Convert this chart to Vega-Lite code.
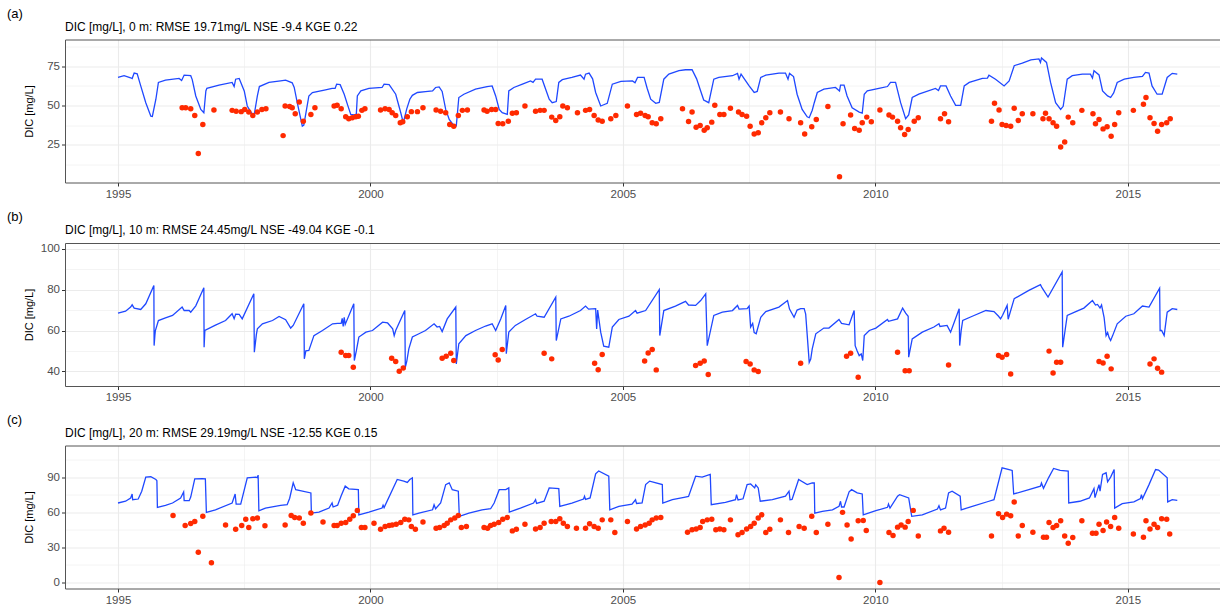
{
  "$schema": "https://vega.github.io/schema/vega-lite/v6.json",
  "background": "white",
  "padding": {"left": 7, "top": 7.5, "right": 0, "bottom": 0},
  "spacing": 10.5,
  "datasets": {
    "simA": [
      {"year":1995.0,"dic":67.9},{"year":1995.12,"dic":69},{"year":1995.25,"dic":67.7},{"year":1995.28,"dic":67.2},{"year":1995.32,"dic":70.7},{"year":1995.38,"dic":70.2},{"year":1995.45,"dic":62.5},{"year":1995.55,"dic":51.8},{"year":1995.65,"dic":43.2},{"year":1995.68,"dic":43.0},{"year":1995.75,"dic":54},{"year":1995.8,"dic":64.7},{"year":1995.94,"dic":66.2},
      {"year":1996.21,"dic":67.3},{"year":1996.26,"dic":66.0},{"year":1996.31,"dic":69.4},{"year":1996.44,"dic":69},{"year":1996.47,"dic":66.5},{"year":1996.54,"dic":56.1},{"year":1996.64,"dic":47.5},{"year":1996.7,"dic":45.4},{"year":1996.74,"dic":59.3},{"year":1996.76,"dic":61},
      {"year":1997.0,"dic":63},{"year":1997.26,"dic":64.7},{"year":1997.3,"dic":62.1},{"year":1997.33,"dic":66.8},{"year":1997.4,"dic":67.3},{"year":1997.5,"dic":59.3},{"year":1997.56,"dic":49.7},{"year":1997.66,"dic":44.3},{"year":1997.7,"dic":44.6},{"year":1997.76,"dic":56.1},{"year":1997.8,"dic":62.1},{"year":1997.99,"dic":64.7},
      {"year":1998.22,"dic":65.7},{"year":1998.32,"dic":66.2},{"year":1998.45,"dic":64.5},{"year":1998.49,"dic":61.5},{"year":1998.55,"dic":51.8},{"year":1998.65,"dic":36.8},{"year":1998.68,"dic":37.5},{"year":1998.78,"dic":56.1},{"year":1998.85,"dic":58.3},
      {"year":1999.11,"dic":60},{"year":1999.24,"dic":60.9},{"year":1999.3,"dic":60.9},{"year":1999.33,"dic":63.6},{"year":1999.4,"dic":63.3},{"year":1999.48,"dic":57.2},{"year":1999.55,"dic":50.1},{"year":1999.61,"dic":44.3},{"year":1999.68,"dic":44.0},{"year":1999.72,"dic":44.5},{"year":1999.74,"dic":56.1},{"year":1999.81,"dic":59.3},{"year":1999.97,"dic":60.9},
      {"year":2000.23,"dic":61.5},{"year":2000.27,"dic":63.6},{"year":2000.37,"dic":63.3},{"year":2000.5,"dic":57.2},{"year":2000.6,"dic":45.4},{"year":2000.65,"dic":39},{"year":2000.72,"dic":48},{"year":2000.78,"dic":54},{"year":2000.83,"dic":56.5},{"year":2000.93,"dic":58.3},
      {"year":2001.09,"dic":58.9},{"year":2001.23,"dic":59.3},{"year":2001.29,"dic":61.5},{"year":2001.36,"dic":61.9},{"year":2001.42,"dic":59},{"year":2001.49,"dic":47.5},{"year":2001.56,"dic":41.1},{"year":2001.66,"dic":36.8},{"year":2001.7,"dic":37},{"year":2001.75,"dic":55.1},{"year":2001.85,"dic":57.2},
      {"year":2002.08,"dic":60.4},{"year":2002.31,"dic":62.1},{"year":2002.41,"dic":62.5},{"year":2002.48,"dic":56.1},{"year":2002.55,"dic":47.5},{"year":2002.61,"dic":45.4},{"year":2002.71,"dic":44.3},{"year":2002.74,"dic":59.3},{"year":2002.84,"dic":61.5},
      {"year":2003.01,"dic":63.6},{"year":2003.17,"dic":65.7},{"year":2003.22,"dic":64.8},{"year":2003.27,"dic":66.8},{"year":2003.4,"dic":66.8},{"year":2003.47,"dic":60.4},{"year":2003.54,"dic":54},{"year":2003.6,"dic":51.8},{"year":2003.68,"dic":52.5},{"year":2003.73,"dic":64.7},{"year":2003.8,"dic":66.5},{"year":2003.99,"dic":67.9},
      {"year":2004.16,"dic":69.4},{"year":2004.23,"dic":66.8},{"year":2004.26,"dic":70},{"year":2004.33,"dic":70.7},{"year":2004.4,"dic":67},{"year":2004.46,"dic":58.3},{"year":2004.56,"dic":49.7},{"year":2004.62,"dic":50.5},{"year":2004.69,"dic":51.4},{"year":2004.79,"dic":63.6},{"year":2004.96,"dic":65.4},
      {"year":2005.19,"dic":65.7},{"year":2005.24,"dic":64.5},{"year":2005.29,"dic":67.9},{"year":2005.42,"dic":67.9},{"year":2005.48,"dic":61},{"year":2005.55,"dic":54},{"year":2005.65,"dic":51.4},{"year":2005.72,"dic":52},{"year":2005.81,"dic":66.8},{"year":2005.91,"dic":70},
      {"year":2006.11,"dic":72.2},{"year":2006.24,"dic":72.8},{"year":2006.37,"dic":72.8},{"year":2006.46,"dic":67},{"year":2006.54,"dic":59.3},{"year":2006.6,"dic":53.5},{"year":2006.7,"dic":51.8},{"year":2006.8,"dic":66.8},{"year":2006.9,"dic":67.9},
      {"year":2007.17,"dic":69},{"year":2007.27,"dic":70.5},{"year":2007.3,"dic":66.8},{"year":2007.34,"dic":70},{"year":2007.5,"dic":62.5},{"year":2007.6,"dic":58.3},{"year":2007.66,"dic":59},{"year":2007.73,"dic":67.9},{"year":2007.83,"dic":69.4},
      {"year":2008.09,"dic":70.7},{"year":2008.22,"dic":70.7},{"year":2008.27,"dic":66.8},{"year":2008.3,"dic":70.5},{"year":2008.38,"dic":68.5},{"year":2008.45,"dic":57.2},{"year":2008.55,"dic":47.5},{"year":2008.65,"dic":42.8},{"year":2008.69,"dic":42.2},{"year":2008.75,"dic":47},{"year":2008.79,"dic":51.8},{"year":2008.85,"dic":58.3},{"year":2008.98,"dic":60.4},
      {"year":2009.21,"dic":61.5},{"year":2009.29,"dic":59.3},{"year":2009.31,"dic":63},{"year":2009.38,"dic":63},{"year":2009.44,"dic":56.1},{"year":2009.54,"dic":48.6},{"year":2009.68,"dic":45.8},{"year":2009.74,"dic":45.2},{"year":2009.78,"dic":57.2},{"year":2009.84,"dic":59.3},
      {"year":2010.07,"dic":60.9},{"year":2010.24,"dic":62.1},{"year":2010.3,"dic":64.7},{"year":2010.4,"dic":64.7},{"year":2010.5,"dic":51.8},{"year":2010.6,"dic":41.6},{"year":2010.66,"dic":44},{"year":2010.73,"dic":55.1},{"year":2010.86,"dic":57.2},
      {"year":2011.19,"dic":60.9},{"year":2011.25,"dic":59.5},{"year":2011.29,"dic":62.5},{"year":2011.4,"dic":62.5},{"year":2011.49,"dic":56.1},{"year":2011.59,"dic":50.1},{"year":2011.69,"dic":50.1},{"year":2011.76,"dic":62.5},{"year":2011.86,"dic":64.7},
      {"year":2012.12,"dic":67.3},{"year":2012.22,"dic":67.5},{"year":2012.25,"dic":69.4},{"year":2012.38,"dic":66.8},{"year":2012.55,"dic":62.5},{"year":2012.65,"dic":65.7},{"year":2012.75,"dic":75.4},{"year":2012.91,"dic":77.1},
      {"year":2013.08,"dic":79.1},{"year":2013.24,"dic":79.7},{"year":2013.27,"dic":77.5},{"year":2013.29,"dic":80.3},{"year":2013.39,"dic":77.5},{"year":2013.47,"dic":64.7},{"year":2013.57,"dic":51.8},{"year":2013.67,"dic":47.5},{"year":2013.72,"dic":49.5},{"year":2013.8,"dic":66.8},{"year":2013.9,"dic":69},
      {"year":2014.1,"dic":70},{"year":2014.26,"dic":70},{"year":2014.3,"dic":67.5},{"year":2014.33,"dic":72.2},{"year":2014.43,"dic":69.5},{"year":2014.5,"dic":59.3},{"year":2014.6,"dic":56.1},{"year":2014.66,"dic":55.1},{"year":2014.72,"dic":58},{"year":2014.79,"dic":64.7},{"year":2014.93,"dic":66.8},
      {"year":2015.12,"dic":67.9},{"year":2015.29,"dic":68.5},{"year":2015.35,"dic":71.1},{"year":2015.42,"dic":70.7},{"year":2015.48,"dic":62.5},{"year":2015.58,"dic":57.2},{"year":2015.68,"dic":57.2},{"year":2015.78,"dic":67.9},{"year":2015.88,"dic":70.5},{"year":2015.98,"dic":70.0}
    ],
    "obsA": [
      {"year":1996.27,"dic":48.6},{"year":1996.34,"dic":48.6},{"year":1996.44,"dic":48},{"year":1996.52,"dic":43.7},{"year":1996.59,"dic":19.4},{"year":1996.68,"dic":37.9},{"year":1996.9,"dic":47.1},
      {"year":1997.26,"dic":46.9},{"year":1997.34,"dic":46.4},{"year":1997.44,"dic":46.1},{"year":1997.51,"dic":47.5},{"year":1997.59,"dic":45.8},{"year":1997.67,"dic":43.7},{"year":1997.76,"dic":45.8},{"year":1997.85,"dic":47.5},{"year":1997.93,"dic":48},
      {"year":1998.27,"dic":30.8},{"year":1998.31,"dic":49.7},{"year":1998.4,"dic":49.3},{"year":1998.45,"dic":48.6},{"year":1998.51,"dic":44.8},{"year":1998.59,"dic":52.2},{"year":1998.67,"dic":40},{"year":1998.82,"dic":44.3},{"year":1998.9,"dic":48.6},
      {"year":1999.28,"dic":49.7},{"year":1999.34,"dic":50.1},{"year":1999.42,"dic":48},{"year":1999.51,"dic":42.8},{"year":1999.57,"dic":41.6},{"year":1999.64,"dic":42.2},{"year":1999.71,"dic":42.8},{"year":1999.76,"dic":43.2},{"year":1999.83,"dic":46.9},{"year":1999.89,"dic":48},
      {"year":2000.2,"dic":47.1},{"year":2000.29,"dic":48},{"year":2000.37,"dic":47.5},{"year":2000.43,"dic":45.4},{"year":2000.5,"dic":43.7},{"year":2000.59,"dic":39},{"year":2000.64,"dic":39.6},{"year":2000.73,"dic":42.8},{"year":2000.81,"dic":46.1},{"year":2000.93,"dic":46.1},
      {"year":2001.04,"dic":48.6},{"year":2001.3,"dic":47.1},{"year":2001.39,"dic":46.4},{"year":2001.49,"dic":45.4},{"year":2001.57,"dic":37.9},{"year":2001.65,"dic":36.8},{"year":2001.74,"dic":43.7},{"year":2001.82,"dic":46.9},{"year":2001.92,"dic":47.1},
      {"year":2002.25,"dic":47.1},{"year":2002.31,"dic":46.4},{"year":2002.4,"dic":47.5},{"year":2002.48,"dic":47.5},{"year":2002.53,"dic":38.5},{"year":2002.62,"dic":38.3},{"year":2002.73,"dic":40},{"year":2002.81,"dic":45},{"year":2002.89,"dic":45.4},
      {"year":2003.06,"dic":49.7},{"year":2003.27,"dic":46.4},{"year":2003.36,"dic":46.9},{"year":2003.44,"dic":46.9},{"year":2003.59,"dic":42.6},{"year":2003.67,"dic":40.5},{"year":2003.75,"dic":42.8},{"year":2003.81,"dic":49.7},{"year":2003.9,"dic":48.6},
      {"year":2004.1,"dic":45.4},{"year":2004.26,"dic":46.9},{"year":2004.34,"dic":47.5},{"year":2004.43,"dic":43.7},{"year":2004.51,"dic":40.7},{"year":2004.59,"dic":40},{"year":2004.76,"dic":41.6},{"year":2004.86,"dic":43.7},
      {"year":2005.09,"dic":49.7},{"year":2005.27,"dic":44.3},{"year":2005.35,"dic":45},{"year":2005.44,"dic":43.7},{"year":2005.5,"dic":42.8},{"year":2005.58,"dic":39},{"year":2005.66,"dic":38.3},{"year":2005.75,"dic":41.6},
      {"year":2006.18,"dic":48},{"year":2006.3,"dic":39.8},{"year":2006.37,"dic":45.8},{"year":2006.45,"dic":36.2},{"year":2006.53,"dic":37.3},{"year":2006.61,"dic":34.2},{"year":2006.67,"dic":35.8},{"year":2006.76,"dic":39.4},{"year":2006.82,"dic":50.1},{"year":2006.92,"dic":44.3},
      {"year":2007.0,"dic":44.3},{"year":2007.13,"dic":48.2},{"year":2007.29,"dic":45.8},{"year":2007.36,"dic":44.3},{"year":2007.45,"dic":43.2},{"year":2007.52,"dic":36.8},{"year":2007.6,"dic":31.9},{"year":2007.68,"dic":32.6},{"year":2007.75,"dic":39},{"year":2007.83,"dic":42.2},{"year":2007.91,"dic":45.4},
      {"year":2008.12,"dic":45.8},{"year":2008.29,"dic":41.6},{"year":2008.52,"dic":39},{"year":2008.6,"dic":31.9},{"year":2008.74,"dic":36.4},{"year":2008.83,"dic":41.1},
      {"year":2009.06,"dic":49.3},{"year":2009.29,"dic":4.6},{"year":2009.36,"dic":38.3},{"year":2009.51,"dic":43.9},{"year":2009.59,"dic":35.3},{"year":2009.68,"dic":34.2},{"year":2009.74,"dic":39},{"year":2009.83,"dic":42.6},{"year":2009.92,"dic":39.6},
      {"year":2010.09,"dic":47.1},{"year":2010.27,"dic":43.9},{"year":2010.34,"dic":42.6},{"year":2010.44,"dic":40},{"year":2010.5,"dic":35.8},{"year":2010.58,"dic":31.5},{"year":2010.65,"dic":34.7},{"year":2010.77,"dic":40},{"year":2010.85,"dic":42.2},
      {"year":2011.29,"dic":41.6},{"year":2011.37,"dic":44.8},{"year":2011.45,"dic":39.6},
      {"year":2012.3,"dic":40},{"year":2012.36,"dic":51.4},{"year":2012.45,"dic":47.1},{"year":2012.51,"dic":37.9},{"year":2012.59,"dic":37.3},{"year":2012.68,"dic":36.8},{"year":2012.75,"dic":48.2},{"year":2012.83,"dic":40.5},{"year":2012.91,"dic":44.8},
      {"year":2013.12,"dic":44.8},{"year":2013.32,"dic":41.6},{"year":2013.37,"dic":45},{"year":2013.44,"dic":41.6},{"year":2013.52,"dic":39},{"year":2013.59,"dic":36.8},{"year":2013.67,"dic":23.6},{"year":2013.75,"dic":26.8},{"year":2013.82,"dic":42.6},{"year":2013.91,"dic":39},
      {"year":2014.09,"dic":46.9},{"year":2014.31,"dic":44.8},{"year":2014.36,"dic":38.3},{"year":2014.43,"dic":41.1},{"year":2014.51,"dic":35.1},{"year":2014.59,"dic":36.4},{"year":2014.67,"dic":30.4},{"year":2014.74,"dic":37.9},{"year":2014.82,"dic":45.4},
      {"year":2015.11,"dic":46.9},{"year":2015.31,"dic":50.8},{"year":2015.36,"dic":55.1},{"year":2015.44,"dic":42.2},{"year":2015.52,"dic":38.5},{"year":2015.59,"dic":33.6},{"year":2015.67,"dic":37.9},{"year":2015.77,"dic":39},{"year":2015.84,"dic":41.6}
    ],
    "simB": [
      {"year":1995.0,"dic":68.5},{"year":1995.15,"dic":69.5},{"year":1995.25,"dic":71.5},{"year":1995.28,"dic":72.6},{"year":1995.32,"dic":71},{"year":1995.45,"dic":70.3},{"year":1995.55,"dic":73.1},{"year":1995.71,"dic":82.1},{"year":1995.715,"dic":52.6},{"year":1995.73,"dic":57.5},{"year":1995.74,"dic":60},{"year":1995.8,"dic":64.9},{"year":1995.94,"dic":66.2},
      {"year":1996.08,"dic":67.4},{"year":1996.27,"dic":71.5},{"year":1996.31,"dic":69.8},{"year":1996.41,"dic":69.8},{"year":1996.44,"dic":69},{"year":1996.54,"dic":72.1},{"year":1996.7,"dic":81},{"year":1996.705,"dic":51.8},{"year":1996.72,"dic":60},{"year":1996.92,"dic":62.5},
      {"year":1997.13,"dic":64.9},{"year":1997.26,"dic":68.2},{"year":1997.3,"dic":65.8},{"year":1997.33,"dic":68},{"year":1997.4,"dic":67.9},{"year":1997.46,"dic":65.7},{"year":1997.69,"dic":78},{"year":1997.7,"dic":49.4},{"year":1997.74,"dic":58},{"year":1997.76,"dic":60.8},{"year":1997.86,"dic":63.3},
      {"year":1998.06,"dic":64.9},{"year":1998.19,"dic":66.9},{"year":1998.32,"dic":65.3},{"year":1998.42,"dic":61.2},{"year":1998.47,"dic":62.5},{"year":1998.68,"dic":73.1},{"year":1998.69,"dic":46.1},{"year":1998.72,"dic":50},{"year":1998.78,"dic":50.2},{"year":1998.88,"dic":57.5},
      {"year":1999.05,"dic":60},{"year":1999.25,"dic":63.3},{"year":1999.35,"dic":63.5},{"year":1999.42,"dic":63.5},{"year":1999.44,"dic":66},{"year":1999.46,"dic":62},{"year":1999.48,"dic":66.5},{"year":1999.5,"dic":63},{"year":1999.67,"dic":73.1},{"year":1999.68,"dic":45.3},{"year":1999.72,"dic":50},{"year":1999.77,"dic":56.8},{"year":1999.91,"dic":59.2},
      {"year":2000.04,"dic":60},{"year":2000.24,"dic":64.1},{"year":2000.34,"dic":63.7},{"year":2000.44,"dic":60.8},{"year":2000.47,"dic":57.5},{"year":2000.5,"dic":60},{"year":2000.68,"dic":69.8},{"year":2000.69,"dic":42},{"year":2000.72,"dic":45},{"year":2000.76,"dic":51},{"year":2000.83,"dic":56.8},{"year":2000.96,"dic":58.4},
      {"year":2001.09,"dic":60},{"year":2001.26,"dic":63.3},{"year":2001.32,"dic":61.7},{"year":2001.37,"dic":62},{"year":2001.42,"dic":59.5},{"year":2001.52,"dic":65.7},{"year":2001.69,"dic":71.5},{"year":2001.7,"dic":43.6},{"year":2001.75,"dic":53.5},{"year":2001.89,"dic":57.5},
      {"year":2002.08,"dic":60},{"year":2002.28,"dic":62.2},{"year":2002.41,"dic":63.3},{"year":2002.48,"dic":60},{"year":2002.58,"dic":65.7},{"year":2002.68,"dic":72.3},{"year":2002.69,"dic":48.6},{"year":2002.74,"dic":59.2},{"year":2002.87,"dic":62.5},
      {"year":2003.07,"dic":65.4},{"year":2003.27,"dic":68.2},{"year":2003.3,"dic":67},{"year":2003.44,"dic":66.5},{"year":2003.67,"dic":76.4},{"year":2003.68,"dic":55.1},{"year":2003.77,"dic":65.7},{"year":2003.93,"dic":67},
      {"year":2004.16,"dic":69.8},{"year":2004.26,"dic":72},{"year":2004.32,"dic":70.5},{"year":2004.46,"dic":70.7},{"year":2004.48,"dic":60.8},{"year":2004.5,"dic":70},{"year":2004.56,"dic":59.2},{"year":2004.62,"dic":52.3},{"year":2004.72,"dic":51.8},{"year":2004.79,"dic":61.7},{"year":2004.92,"dic":65.4},
      {"year":2005.12,"dic":67},{"year":2005.25,"dic":69.8},{"year":2005.28,"dic":68.5},{"year":2005.45,"dic":69.8},{"year":2005.72,"dic":80},{"year":2005.73,"dic":57.5},{"year":2005.81,"dic":69.8},
      {"year":2006.04,"dic":72},{"year":2006.24,"dic":74.3},{"year":2006.3,"dic":72.5},{"year":2006.44,"dic":72.3},{"year":2006.54,"dic":74.7},{"year":2006.64,"dic":78},{"year":2006.67,"dic":52.6},{"year":2006.8,"dic":67.4},{"year":2006.97,"dic":69},
      {"year":2007.17,"dic":69.8},{"year":2007.27,"dic":72.3},{"year":2007.3,"dic":70.5},{"year":2007.46,"dic":70.7},{"year":2007.5,"dic":72},{"year":2007.53,"dic":61.7},{"year":2007.57,"dic":63.5},{"year":2007.6,"dic":59},{"year":2007.64,"dic":58.4},{"year":2007.73,"dic":66.5},{"year":2007.83,"dic":69.3},
      {"year":2008.09,"dic":71.5},{"year":2008.26,"dic":74.7},{"year":2008.3,"dic":70.5},{"year":2008.39,"dic":66.5},{"year":2008.45,"dic":70},{"year":2008.52,"dic":70.7},{"year":2008.59,"dic":70.7},{"year":2008.62,"dic":68},{"year":2008.69,"dic":44.4},{"year":2008.72,"dic":46},{"year":2008.75,"dic":51},{"year":2008.82,"dic":58.4},{"year":2008.98,"dic":61.2},
      {"year":2009.08,"dic":61.2},{"year":2009.28,"dic":65.4},{"year":2009.33,"dic":63.5},{"year":2009.48,"dic":62.8},{"year":2009.58,"dic":69.8},{"year":2009.6,"dic":52.6},{"year":2009.64,"dic":50},{"year":2009.68,"dic":47.7},{"year":2009.72,"dic":48.5},{"year":2009.75,"dic":45.3},{"year":2009.78,"dic":57.5},{"year":2009.88,"dic":60},
      {"year":2010.01,"dic":61.2},{"year":2010.24,"dic":65.4},{"year":2010.26,"dic":64.5},{"year":2010.44,"dic":65.7},{"year":2010.54,"dic":71},{"year":2010.6,"dic":68.5},{"year":2010.65,"dic":67},{"year":2010.66,"dic":46.9},{"year":2010.73,"dic":55.9},{"year":2010.93,"dic":59.2},
      {"year":2011.16,"dic":61.7},{"year":2011.26,"dic":63.3},{"year":2011.28,"dic":62},{"year":2011.42,"dic":62.5},{"year":2011.49,"dic":59.2},{"year":2011.66,"dic":70.7},{"year":2011.67,"dic":52.6},{"year":2011.7,"dic":60},{"year":2011.73,"dic":64.9},{"year":2011.92,"dic":67},
      {"year":2012.19,"dic":69.8},{"year":2012.35,"dic":69.3},{"year":2012.44,"dic":67},{"year":2012.48,"dic":65.7},{"year":2012.52,"dic":67.5},{"year":2012.61,"dic":72.3},{"year":2012.63,"dic":65.5},{"year":2012.75,"dic":75.6},
      {"year":2013.04,"dic":79.7},{"year":2013.27,"dic":82.5},{"year":2013.3,"dic":81},{"year":2013.42,"dic":76.4},{"year":2013.7,"dic":88.7},{"year":2013.71,"dic":51.8},{"year":2013.8,"dic":67.4},{"year":2013.97,"dic":69.3},
      {"year":2014.13,"dic":71},{"year":2014.3,"dic":74.7},{"year":2014.36,"dic":72.5},{"year":2014.4,"dic":72.8},{"year":2014.45,"dic":71},{"year":2014.48,"dic":72.5},{"year":2014.53,"dic":66.5},{"year":2014.57,"dic":57.5},{"year":2014.6,"dic":59},{"year":2014.63,"dic":56.5},{"year":2014.66,"dic":55.1},{"year":2014.7,"dic":57.5},{"year":2014.79,"dic":63.3},{"year":2014.96,"dic":67},
      {"year":2015.12,"dic":68.2},{"year":2015.29,"dic":72},{"year":2015.42,"dic":71.5},{"year":2015.63,"dic":80.8},{"year":2015.64,"dic":60},{"year":2015.67,"dic":60},{"year":2015.72,"dic":57.5},{"year":2015.78,"dic":69},{"year":2015.88,"dic":70.7},{"year":2015.98,"dic":70.3}
    ],
    "obsB": [
      {"year":1999.42,"dic":49.4},{"year":1999.51,"dic":47.7},{"year":1999.57,"dic":47.7},{"year":1999.66,"dic":42},
      {"year":2000.42,"dic":46.4},{"year":2000.5,"dic":44.8},{"year":2000.57,"dic":40},{"year":2000.65,"dic":41.6},
      {"year":2001.42,"dic":46.4},{"year":2001.5,"dic":47.4},{"year":2001.59,"dic":48.9},{"year":2001.65,"dic":45.3},
      {"year":2002.47,"dic":48.1},{"year":2002.53,"dic":45.6},{"year":2002.61,"dic":50.7},
      {"year":2003.44,"dic":48.9},{"year":2003.59,"dic":46.1},
      {"year":2004.44,"dic":44},{"year":2004.51,"dic":40.8},{"year":2004.59,"dic":48.2},
      {"year":2005.43,"dic":45},{"year":2005.5,"dic":49},{"year":2005.58,"dic":50.7},{"year":2005.66,"dic":40.7},
      {"year":2006.44,"dic":42.8},{"year":2006.53,"dic":44},{"year":2006.61,"dic":45},{"year":2006.69,"dic":38.4},
      {"year":2007.44,"dic":44.8},{"year":2007.52,"dic":43.6},{"year":2007.6,"dic":40.7},{"year":2007.68,"dic":39.9},
      {"year":2008.52,"dic":44},
      {"year":2009.43,"dic":47.4},{"year":2009.51,"dic":48.9},{"year":2009.66,"dic":37.1},
      {"year":2010.44,"dic":49.4},{"year":2010.59,"dic":40.3},{"year":2010.67,"dic":40.3},
      {"year":2011.45,"dic":43.1},
      {"year":2012.44,"dic":47.7},{"year":2012.51,"dic":46.9},{"year":2012.6,"dic":48.2},{"year":2012.68,"dic":38.7},
      {"year":2013.44,"dic":49.9},{"year":2013.52,"dic":39.2},{"year":2013.59,"dic":44.4},{"year":2013.67,"dic":44.4},
      {"year":2014.43,"dic":44.8},{"year":2014.51,"dic":44.1},{"year":2014.59,"dic":47.4},{"year":2014.67,"dic":41.2},
      {"year":2015.44,"dic":43.6},{"year":2015.52,"dic":46.1},{"year":2015.59,"dic":41.5},{"year":2015.67,"dic":39.6}
    ],
    "simC": [
      {"year":1995.0,"dic":67.9},{"year":1995.15,"dic":69.4},{"year":1995.25,"dic":72.2},{"year":1995.28,"dic":75.6},{"year":1995.29,"dic":70.7},{"year":1995.4,"dic":71.3},{"year":1995.47,"dic":78},{"year":1995.55,"dic":90},{"year":1995.65,"dic":90.3},{"year":1995.75,"dic":88},{"year":1995.77,"dic":87},{"year":1995.78,"dic":64.2},{"year":1995.94,"dic":65.9},
      {"year":1996.08,"dic":67.9},{"year":1996.24,"dic":72.2},{"year":1996.3,"dic":77.4},{"year":1996.31,"dic":69.9},{"year":1996.41,"dic":69.9},{"year":1996.44,"dic":73},{"year":1996.52,"dic":88.5},{"year":1996.67,"dic":88.8},{"year":1996.73,"dic":88.5},{"year":1996.75,"dic":59.9},{"year":1996.93,"dic":62.1},
      {"year":1997.26,"dic":67.9},{"year":1997.32,"dic":75.6},{"year":1997.34,"dic":67},{"year":1997.43,"dic":67},{"year":1997.56,"dic":89.4},{"year":1997.73,"dic":90},{"year":1997.76,"dic":89.5},{"year":1997.775,"dic":91.7},{"year":1997.79,"dic":61.3},{"year":1997.92,"dic":63.6},
      {"year":1998.22,"dic":65.9},{"year":1998.35,"dic":66.4},{"year":1998.4,"dic":72},{"year":1998.47,"dic":85.1},{"year":1998.52,"dic":79.3},{"year":1998.82,"dic":76.5},{"year":1998.83,"dic":59.3},{"year":1998.98,"dic":60.2},
      {"year":1999.18,"dic":63.6},{"year":1999.24,"dic":67.9},{"year":1999.26,"dic":64.5},{"year":1999.35,"dic":66},{"year":1999.42,"dic":74},{"year":1999.5,"dic":82.3},{"year":1999.57,"dic":80},{"year":1999.76,"dic":79.3},{"year":1999.77,"dic":57.8},{"year":1999.97,"dic":60.2},
      {"year":2000.23,"dic":63.6},{"year":2000.25,"dic":66},{"year":2000.27,"dic":64},{"year":2000.53,"dic":88},{"year":2000.66,"dic":86.6},{"year":2000.73,"dic":85.5},{"year":2000.78,"dic":88},{"year":2000.83,"dic":89.4},{"year":2000.84,"dic":57.8},{"year":2000.96,"dic":59.3},
      {"year":2001.23,"dic":62.1},{"year":2001.26,"dic":66.4},{"year":2001.29,"dic":63},{"year":2001.39,"dic":67.9},{"year":2001.49,"dic":83.6},{"year":2001.56,"dic":85.1},{"year":2001.62,"dic":79.3},{"year":2001.74,"dic":78},{"year":2001.76,"dic":56.5},{"year":2001.95,"dic":59.3},
      {"year":2002.21,"dic":62.1},{"year":2002.38,"dic":63},{"year":2002.45,"dic":67.9},{"year":2002.55,"dic":79.3},{"year":2002.68,"dic":79.3},{"year":2002.74,"dic":80.8},{"year":2002.75,"dic":60.2},{"year":2002.97,"dic":63.6},
      {"year":2003.23,"dic":67.9},{"year":2003.27,"dic":70.7},{"year":2003.29,"dic":67.5},{"year":2003.44,"dic":69.4},{"year":2003.54,"dic":80.8},{"year":2003.73,"dic":80.2},{"year":2003.75,"dic":65},{"year":2003.99,"dic":67.9},
      {"year":2004.22,"dic":71.3},{"year":2004.24,"dic":73.7},{"year":2004.26,"dic":71},{"year":2004.35,"dic":72.2},{"year":2004.46,"dic":92.8},{"year":2004.52,"dic":95.2},{"year":2004.72,"dic":90.8},{"year":2004.74,"dic":62.1},{"year":2004.92,"dic":65},
      {"year":2005.18,"dic":67},{"year":2005.25,"dic":70.7},{"year":2005.27,"dic":67.5},{"year":2005.38,"dic":68},{"year":2005.45,"dic":83.6},{"year":2005.53,"dic":86.6},{"year":2005.78,"dic":83.6},{"year":2005.79,"dic":67.9},{"year":2005.98,"dic":70.7},
      {"year":2006.21,"dic":72.8},{"year":2006.3,"dic":73.5},{"year":2006.44,"dic":90.8},{"year":2006.57,"dic":90},{"year":2006.73,"dic":92.3},{"year":2006.75,"dic":66.4},
      {"year":2007.03,"dic":68.5},{"year":2007.23,"dic":70.7},{"year":2007.25,"dic":75},{"year":2007.28,"dic":70.5},{"year":2007.38,"dic":71.5},{"year":2007.46,"dic":83.6},{"year":2007.53,"dic":84.2},{"year":2007.61,"dic":80.8},{"year":2007.63,"dic":83.5},{"year":2007.68,"dic":80.8},{"year":2007.72,"dic":69.4},{"year":2007.96,"dic":70.7},
      {"year":2008.22,"dic":73.7},{"year":2008.29,"dic":78},{"year":2008.31,"dic":70.7},{"year":2008.35,"dic":71},{"year":2008.48,"dic":88},{"year":2008.65,"dic":83.6},{"year":2008.75,"dic":85},{"year":2008.79,"dic":85.1},{"year":2008.8,"dic":59.3},{"year":2008.95,"dic":60.8},
      {"year":2009.15,"dic":62.1},{"year":2009.28,"dic":65},{"year":2009.31,"dic":69.4},{"year":2009.33,"dic":64.5},{"year":2009.38,"dic":64.5},{"year":2009.48,"dic":77.4},{"year":2009.53,"dic":79.3},{"year":2009.64,"dic":76.5},{"year":2009.74,"dic":75.6},{"year":2009.76,"dic":57.8},
      {"year":2010.01,"dic":61.3},{"year":2010.24,"dic":64.2},{"year":2010.26,"dic":67},{"year":2010.29,"dic":63.5},{"year":2010.44,"dic":73.7},{"year":2010.48,"dic":75},{"year":2010.66,"dic":72.2},{"year":2010.72,"dic":56.5},{"year":2010.93,"dic":57.8},
      {"year":2011.23,"dic":62.7},{"year":2011.26,"dic":65.5},{"year":2011.29,"dic":62},{"year":2011.39,"dic":63.6},{"year":2011.45,"dic":76.5},{"year":2011.52,"dic":78},{"year":2011.68,"dic":73.7},{"year":2011.7,"dic":62.1},{"year":2011.92,"dic":65},
      {"year":2012.25,"dic":69.4},{"year":2012.35,"dic":70.7},{"year":2012.51,"dic":98},{"year":2012.65,"dic":96.5},{"year":2012.71,"dic":95.7},{"year":2012.74,"dic":75.6},
      {"year":2013.04,"dic":79.3},{"year":2013.27,"dic":82.3},{"year":2013.29,"dic":85},{"year":2013.33,"dic":80.5},{"year":2013.43,"dic":89.4},{"year":2013.53,"dic":97.4},{"year":2013.66,"dic":95.7},{"year":2013.82,"dic":95.2},{"year":2013.83,"dic":67.9},
      {"year":2014.05,"dic":69.4},{"year":2014.24,"dic":72.2},{"year":2014.33,"dic":80.2},{"year":2014.35,"dic":72.5},{"year":2014.43,"dic":83.6},{"year":2014.45,"dic":78},{"year":2014.5,"dic":92.3},{"year":2014.57,"dic":93.7},{"year":2014.6,"dic":86},{"year":2014.66,"dic":90},{"year":2014.73,"dic":96.5},{"year":2014.74,"dic":63.6},{"year":2014.89,"dic":67.3},
      {"year":2015.12,"dic":68.8},{"year":2015.25,"dic":71.6},{"year":2015.27,"dic":75},{"year":2015.29,"dic":71.5},{"year":2015.42,"dic":83.6},{"year":2015.55,"dic":96.5},{"year":2015.61,"dic":96},{"year":2015.78,"dic":89.4},{"year":2015.79,"dic":68.8},{"year":2015.88,"dic":70.7},{"year":2015.98,"dic":70.2}
    ],
    "obsC": [
      {"year":1996.09,"dic":57.3},{"year":1996.33,"dic":48.7},{"year":1996.44,"dic":50.4},{"year":1996.52,"dic":52.2},{"year":1996.59,"dic":25.8},{"year":1996.68,"dic":56.5},{"year":1996.85,"dic":16.9},
      {"year":1997.13,"dic":49.2},{"year":1997.33,"dic":45.5},{"year":1997.45,"dic":48.7},{"year":1997.53,"dic":54.1},{"year":1997.59,"dic":47},{"year":1997.67,"dic":54.4},{"year":1997.76,"dic":55},{"year":1997.91,"dic":48.4},
      {"year":1998.31,"dic":49.2},{"year":1998.43,"dic":57.3},{"year":1998.5,"dic":55.6},{"year":1998.59,"dic":55},{"year":1998.67,"dic":50.7},{"year":1998.82,"dic":59.3},
      {"year":1999.06,"dic":51.6},{"year":1999.28,"dic":48.7},{"year":1999.34,"dic":48.7},{"year":1999.42,"dic":50.7},{"year":1999.51,"dic":51.3},{"year":1999.59,"dic":54.1},{"year":1999.66,"dic":57},{"year":1999.74,"dic":61.6},{"year":1999.82,"dic":47},{"year":1999.89,"dic":47},
      {"year":2000.07,"dic":50.7},{"year":2000.2,"dic":45.5},{"year":2000.29,"dic":47.9},{"year":2000.37,"dic":48.7},{"year":2000.43,"dic":49.2},{"year":2000.51,"dic":49.8},{"year":2000.6,"dic":51.3},{"year":2000.68,"dic":54.1},{"year":2000.76,"dic":53.5},{"year":2000.81,"dic":47.9},{"year":2000.89,"dic":45.5},
      {"year":2001.04,"dic":51.6},{"year":2001.3,"dic":46.4},{"year":2001.37,"dic":47},{"year":2001.46,"dic":48.7},{"year":2001.52,"dic":50.7},{"year":2001.59,"dic":53.5},{"year":2001.67,"dic":55},{"year":2001.74,"dic":57.3},{"year":2001.8,"dic":47},{"year":2001.9,"dic":47.9},
      {"year":2002.25,"dic":47},{"year":2002.32,"dic":46.4},{"year":2002.38,"dic":48.7},{"year":2002.45,"dic":49.8},{"year":2002.54,"dic":51.3},{"year":2002.62,"dic":54.1},{"year":2002.71,"dic":55.6},{"year":2002.81,"dic":44.1},{"year":2002.89,"dic":45.5},
      {"year":2003.06,"dic":49.8},{"year":2003.27,"dic":45.8},{"year":2003.36,"dic":47},{"year":2003.44,"dic":50.7},{"year":2003.58,"dic":52.2},{"year":2003.67,"dic":52.2},{"year":2003.75,"dic":54.4},{"year":2003.82,"dic":50.7},{"year":2003.9,"dic":47.9},
      {"year":2004.08,"dic":46.4},{"year":2004.26,"dic":46.4},{"year":2004.34,"dic":50.1},{"year":2004.43,"dic":47.9},{"year":2004.51,"dic":46.4},{"year":2004.59,"dic":53.5},{"year":2004.76,"dic":53.5},{"year":2004.84,"dic":42.7},
      {"year":2005.09,"dic":52.2},{"year":2005.27,"dic":45.8},{"year":2005.35,"dic":47.9},{"year":2005.44,"dic":49.2},{"year":2005.52,"dic":50.7},{"year":2005.58,"dic":53.5},{"year":2005.66,"dic":55},{"year":2005.75,"dic":55.6},
      {"year":2006.28,"dic":43},{"year":2006.37,"dic":45},{"year":2006.45,"dic":45.8},{"year":2006.53,"dic":47},{"year":2006.58,"dic":52.2},{"year":2006.67,"dic":53.5},{"year":2006.76,"dic":54.1},{"year":2006.84,"dic":45},{"year":2006.92,"dic":45.8},
      {"year":2007.0,"dic":45},{"year":2007.13,"dic":53.5},{"year":2007.28,"dic":40.7},{"year":2007.36,"dic":42.7},{"year":2007.45,"dic":45.8},{"year":2007.53,"dic":47.9},{"year":2007.6,"dic":50.7},{"year":2007.68,"dic":55},{"year":2007.75,"dic":57.8},{"year":2007.83,"dic":42.7},{"year":2007.91,"dic":45.5},
      {"year":2008.12,"dic":53.5},{"year":2008.28,"dic":42.7},{"year":2008.49,"dic":47.9},{"year":2008.59,"dic":46.4},{"year":2008.74,"dic":56.5},{"year":2008.83,"dic":42.7},
      {"year":2009.06,"dic":49.8},{"year":2009.28,"dic":4.3},{"year":2009.35,"dic":59.9},{"year":2009.44,"dic":49.2},{"year":2009.52,"dic":37.2},{"year":2009.66,"dic":52.7},{"year":2009.76,"dic":53},{"year":2009.82,"dic":44.4},
      {"year":2010.09,"dic":0},{"year":2010.27,"dic":42.7},{"year":2010.35,"dic":40.1},{"year":2010.44,"dic":47.3},{"year":2010.51,"dic":49.2},{"year":2010.59,"dic":47.3},{"year":2010.65,"dic":52.2},{"year":2010.75,"dic":61.6},{"year":2010.85,"dic":39.8},
      {"year":2011.29,"dic":44.1},{"year":2011.36,"dic":46.4},{"year":2011.45,"dic":43},
      {"year":2012.3,"dic":39.8},{"year":2012.44,"dic":58.7},{"year":2012.52,"dic":55.6},{"year":2012.6,"dic":58.4},{"year":2012.68,"dic":57},{"year":2012.75,"dic":68.8},{"year":2012.83,"dic":39.8},{"year":2012.91,"dic":48.7},
      {"year":2013.12,"dic":43},{"year":2013.33,"dic":38.7},{"year":2013.39,"dic":38.7},{"year":2013.44,"dic":51.3},{"year":2013.52,"dic":47},{"year":2013.59,"dic":48.7},{"year":2013.67,"dic":52.7},{"year":2013.75,"dic":39.8},{"year":2013.82,"dic":33.5},{"year":2013.91,"dic":38.4},
      {"year":2014.09,"dic":52.7},{"year":2014.3,"dic":42.1},{"year":2014.37,"dic":42.1},{"year":2014.43,"dic":49.8},{"year":2014.51,"dic":44.4},{"year":2014.58,"dic":51.6},{"year":2014.66,"dic":47.9},{"year":2014.74,"dic":55.6},{"year":2014.82,"dic":46.4},
      {"year":2015.11,"dic":41.5},{"year":2015.31,"dic":38.7},{"year":2015.36,"dic":52.7},{"year":2015.44,"dic":45.8},{"year":2015.52,"dic":49.8},{"year":2015.59,"dic":47},{"year":2015.67,"dic":54.4},{"year":2015.77,"dic":54.1},{"year":2015.83,"dic":41.5}
    ]
  },
  "vconcat": [
    {
      "title": {"text": "(a)", "anchor": "start", "frame": "bounds", "fontSize": 13, "fontWeight": "normal", "dx": -16, "offset": 0},
      "vconcat": [
        {
          "title": {"text": "DIC [mg/L], 0 m: RMSE 19.71mg/L NSE -9.4 KGE 0.22", "anchor": "start", "frame": "group", "fontSize": 12, "fontWeight": "normal", "offset": 6},
          "width": 1155,
          "height": 143,
          "resolve": {"axis": {"x": "independent"}},
          "layer": [
            {
              "data": {"name": "simA"},
              "mark": {"type": "line", "color": "#1f48ff", "strokeWidth": 1.3},
              "encoding": {
                "x": {"field": "year", "type": "quantitative", "scale": {"domain": [1993.95, 2016.826], "nice": false, "zero": false},
                      "axis": {"orient": "bottom", "title": null, "tickCount": 50, "values": [1995, 1997.5, 2000, 2002.5, 2005, 2007.5, 2010, 2012.5, 2015], "format": "d",
                               "labelExpr": "abs(datum.value - 5 * round(datum.value / 5)) < 0.01 ? format(datum.value, 'd') : ''",
                               "tickOpacity": {"condition": {"test": "abs(datum.value - 5 * round(datum.value / 5)) < 0.01", "value": 1}, "value": 0},
                               "gridWidth": {"condition": {"test": "abs(datum.value - 5 * round(datum.value / 5)) < 0.01", "value": 1.1}, "value": 0.55}}},
                "y": {"field": "dic", "type": "quantitative", "scale": {"domain": [0.9, 92.1], "nice": false, "zero": false},
                      "axis": {"title": "DIC [mg/L]", "tickCount": 50, "values": [12.5, 25, 37.5, 50, 62.5, 75, 87.5],
                               "labelExpr": "abs(datum.value - 25 * round(datum.value / 25)) < 0.01 ? format(datum.value, 'd') : ''",
                               "tickOpacity": {"condition": {"test": "abs(datum.value - 25 * round(datum.value / 25)) < 0.01", "value": 1}, "value": 0},
                               "gridWidth": {"condition": {"test": "abs(datum.value - 25 * round(datum.value / 25)) < 0.01", "value": 1.1}, "value": 0.55}}}
              }
            },
            {
              "data": {"name": "obsA"},
              "mark": {"type": "circle", "color": "#ff2a00", "size": 30, "opacity": 1},
              "encoding": {
                "x": {"field": "year", "type": "quantitative", "axis": {"orient": "top", "title": null, "labels": false, "ticks": false, "grid": false, "domain": true}},
                "y": {"field": "dic", "type": "quantitative"}
              }
            }
          ]
        }
      ]
    },
    {
      "title": {"text": "(b)", "anchor": "start", "frame": "bounds", "fontSize": 13, "fontWeight": "normal", "dx": -16, "offset": 0},
      "vconcat": [
        {
          "title": {"text": "DIC [mg/L], 10 m: RMSE 24.45mg/L NSE -49.04 KGE -0.1", "anchor": "start", "frame": "group", "fontSize": 12, "fontWeight": "normal", "offset": 6},
          "width": 1155,
          "height": 143,
          "resolve": {"axis": {"x": "independent"}},
          "layer": [
            {
              "data": {"name": "simB"},
              "mark": {"type": "line", "color": "#1f48ff", "strokeWidth": 1.3},
              "encoding": {
                "x": {"field": "year", "type": "quantitative", "scale": {"domain": [1993.95, 2016.826], "nice": false, "zero": false},
                      "axis": {"orient": "bottom", "title": null, "tickCount": 50, "values": [1995, 1997.5, 2000, 2002.5, 2005, 2007.5, 2010, 2012.5, 2015], "format": "d",
                               "labelExpr": "abs(datum.value - 5 * round(datum.value / 5)) < 0.01 ? format(datum.value, 'd') : ''",
                               "tickOpacity": {"condition": {"test": "abs(datum.value - 5 * round(datum.value / 5)) < 0.01", "value": 1}, "value": 0},
                               "gridWidth": {"condition": {"test": "abs(datum.value - 5 * round(datum.value / 5)) < 0.01", "value": 1.1}, "value": 0.55}}},
                "y": {"field": "dic", "type": "quantitative", "scale": {"domain": [32.8, 102.9], "nice": false, "zero": false},
                      "axis": {"title": "DIC [mg/L]", "tickCount": 50, "values": [40, 50, 60, 70, 80, 90, 100],
                               "labelExpr": "abs(datum.value - 20 * round(datum.value / 20)) < 0.01 ? format(datum.value, 'd') : ''",
                               "tickOpacity": {"condition": {"test": "abs(datum.value - 20 * round(datum.value / 20)) < 0.01", "value": 1}, "value": 0},
                               "gridWidth": {"condition": {"test": "abs(datum.value - 20 * round(datum.value / 20)) < 0.01", "value": 1.1}, "value": 0.55}}}
              }
            },
            {
              "data": {"name": "obsB"},
              "mark": {"type": "circle", "color": "#ff2a00", "size": 30, "opacity": 1},
              "encoding": {
                "x": {"field": "year", "type": "quantitative", "axis": {"orient": "top", "title": null, "labels": false, "ticks": false, "grid": false, "domain": true}},
                "y": {"field": "dic", "type": "quantitative"}
              }
            }
          ]
        }
      ]
    },
    {
      "title": {"text": "(c)", "anchor": "start", "frame": "bounds", "fontSize": 13, "fontWeight": "normal", "dx": -16, "offset": 0},
      "vconcat": [
        {
          "title": {"text": "DIC [mg/L], 20 m: RMSE 29.19mg/L NSE -12.55 KGE 0.15", "anchor": "start", "frame": "group", "fontSize": 12, "fontWeight": "normal", "offset": 6},
          "width": 1155,
          "height": 143,
          "resolve": {"axis": {"x": "independent"}},
          "layer": [
            {
              "data": {"name": "simC"},
              "mark": {"type": "line", "color": "#1f48ff", "strokeWidth": 1.3},
              "encoding": {
                "x": {"field": "year", "type": "quantitative", "scale": {"domain": [1993.95, 2016.826], "nice": false, "zero": false},
                      "axis": {"orient": "bottom", "title": null, "tickCount": 50, "values": [1995, 1997.5, 2000, 2002.5, 2005, 2007.5, 2010, 2012.5, 2015], "format": "d",
                               "labelExpr": "abs(datum.value - 5 * round(datum.value / 5)) < 0.01 ? format(datum.value, 'd') : ''",
                               "tickOpacity": {"condition": {"test": "abs(datum.value - 5 * round(datum.value / 5)) < 0.01", "value": 1}, "value": 0},
                               "gridWidth": {"condition": {"test": "abs(datum.value - 5 * round(datum.value / 5)) < 0.01", "value": 1.1}, "value": 0.55}}},
                "y": {"field": "dic", "type": "quantitative", "scale": {"domain": [-5.1, 117], "nice": false, "zero": false},
                      "axis": {"title": "DIC [mg/L]", "tickCount": 50, "values": [0, 15, 30, 45, 60, 75, 90, 105],
                               "labelExpr": "abs(datum.value - 30 * round(datum.value / 30)) < 0.01 ? format(datum.value, 'd') : ''",
                               "tickOpacity": {"condition": {"test": "abs(datum.value - 30 * round(datum.value / 30)) < 0.01", "value": 1}, "value": 0},
                               "gridWidth": {"condition": {"test": "abs(datum.value - 30 * round(datum.value / 30)) < 0.01", "value": 1.1}, "value": 0.55}}}
              }
            },
            {
              "data": {"name": "obsC"},
              "mark": {"type": "circle", "color": "#ff2a00", "size": 30, "opacity": 1},
              "encoding": {
                "x": {"field": "year", "type": "quantitative", "axis": {"orient": "top", "title": null, "labels": false, "ticks": false, "grid": false, "domain": true}},
                "y": {"field": "dic", "type": "quantitative"}
              }
            }
          ]
        }
      ]
    }
  ],
  "config": {
    "font": "Liberation Sans",
    "view": {"stroke": null},
    "title": {"color": "#000000", "font": "Liberation Sans"},
    "axis": {
      "labelFont": "Liberation Sans", "labelFontSize": 11.5, "labelColor": "#4d4d4d", "labelPadding": 2,
      "tickColor": "#333333", "tickSize": 3.5, "tickWidth": 1,
      "domainColor": "#555555", "domainWidth": 1,
      "gridColor": "#EBEBEB", "grid": true,
      "titleFont": "Liberation Sans", "titleFontSize": 11, "titleFontWeight": "normal", "titleColor": "#000000", "titlePadding": 7,
      "labelOverlap": false, "labelFlush": false
    },
    "axisY": {"domain": true, "minExtent": 24, "maxExtent": 24}
  }
}
